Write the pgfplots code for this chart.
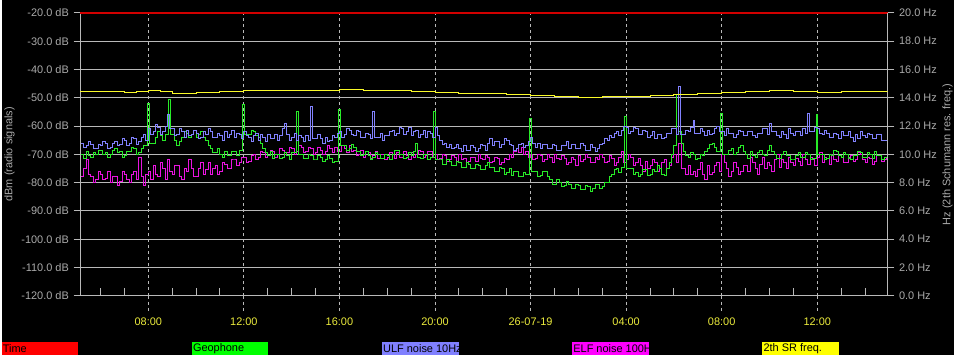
\documentclass[border=0pt]{standalone}
\usepackage{pgfplots}
\pgfplotsset{compat=1.18}
\usepackage{fontspec}
\setmainfont{Liberation Sans}
\definecolor{gridc}{RGB}{185,185,185}
\definecolor{labc}{RGB}{170,170,170}
\definecolor{ylab}{RGB}{235,235,60}
\definecolor{geo}{RGB}{40,235,40}
\definecolor{ulf}{RGB}{130,130,255}
\definecolor{elf}{RGB}{235,20,225}
\definecolor{sr}{RGB}{250,250,40}
\definecolor{timec}{RGB}{210,0,0}
\definecolor{geobox}{RGB}{0,255,0}
\definecolor{ulfbox}{RGB}{128,128,255}
\definecolor{elfbox}{RGB}{255,0,255}
\definecolor{srbox}{RGB}{255,255,0}
\begin{document}
\begin{tikzpicture}[font=\fontsize{8.25}{9.5}\selectfont]
\fill[black] (0,0) rectangle (717.75pt,267.75pt);
\begin{axis}[at={(59.25pt,45pt)}, anchor=south west, scale only axis,
  width=608.25pt, height=213pt,
  xmin=5.15, xmax=38.95, ymin=-120, ymax=-20,
  clip=false,
  axis x line*=bottom, axis y line*=left,
  axis line style={gridc, line width=0.75pt},
  ytick={-120,-110,...,-20},
  yticklabels={-120.0 dB,-110.0 dB,-100.0 dB,-90.0 dB,-80.0 dB,-70.0 dB,-60.0 dB,-50.0 dB,-40.0 dB,-30.0 dB,-20.0 dB},
  yticklabel style={text=labc},
  ytick align=outside, major tick length=5pt,
  ytick style={gridc, line width=0.75pt},
  ymajorgrids, major y grid style={gridc, line width=0.75pt},
  xmajorgrids, major x grid style={gridc, line width=0.75pt, dash pattern=on 2.25pt off 2.25pt},
  xtick={8,12,16,20,24,28,32,36},
  xticklabels={08:00,12:00,16:00,20:00,26-07-19,04:00,08:00,12:00},
  xticklabel style={text=ylab, yshift=-13pt},
  major x tick style={draw=none},
  minor xtick={6,7,9,10,11,13,14,15,17,18,19,21,22,23,25,26,27,29,30,31,33,34,35,37,38},
  xtick align=inside, minor tick length=6pt,
  minor x tick style={gridc, line width=0.75pt},
]
\foreach \t in {8,12,16,20,24,28,32,36} {
  \edef\temp{\noexpand\draw[gridc, line width=0.75pt, dash pattern=on 2.25pt off 2.25pt] (axis cs:\t,-120) -- (axis cs:\t,-125.6);}
  \temp
}
\addplot[timec, line width=0.9pt] coordinates {(5.15,-20) (38.95,-20)};
% ELF noise 100Hz
\addplot[elf, const plot, line width=0.75pt] coordinates {
(5.2,-78)(5.3,-75)(5.4,-72)(5.5,-77)(5.6,-78)(5.7,-80)(5.8,-79)(5.9,-76)(6.0,-77)(6.1,-79)(6.2,-78.5)(6.3,-76)(6.4,-80)(6.5,-78)(6.6,-78)(6.7,-81)(6.8,-79.5)(6.9,-76)(7.0,-77)(7.1,-79)(7.2,-80)(7.3,-77)(7.4,-76)(7.5,-79)(7.6,-71)(7.7,-78)(7.8,-81)(7.9,-77)(8.0,-76)(8.1,-79)(8.2,-74)(8.3,-77)(8.4,-78)(8.5,-73)(8.6,-75)(8.7,-79)(8.8,-72)(8.9,-76)(9.0,-77)(9.1,-74)(9.2,-74)(9.3,-78)(9.4,-79)(9.5,-75)(9.6,-76)(9.7,-72)(9.8,-75)(9.9,-78)(10.0,-78)(10.1,-75)(10.2,-73)(10.3,-77)(10.4,-75.5)(10.5,-73)(10.6,-77)(10.7,-75)(10.8,-74)(10.9,-77)(11.0,-76)(11.1,-73)(11.2,-73.5)(11.3,-75)(11.4,-75)(11.5,-72)(11.6,-72)(11.7,-74)(11.8,-73)(11.9,-71)(12.0,-71)(12.1,-73)(12.2,-72.5)(12.3,-70.5)(12.4,-70)(12.5,-72)(12.6,-71)(12.7,-69)(12.8,-69.5)(12.9,-71)(13.0,-70.5)(13.1,-68.5)(13.2,-69)(13.3,-71)(13.4,-70)(13.5,-68)(13.6,-68.5)(13.7,-70)(13.8,-69.5)(13.9,-67.5)(14.0,-68)(14.1,-70)(14.2,-69)(14.3,-67)(14.4,-67.5)(14.5,-69.5)(14.6,-69)(14.7,-67.5)(14.8,-68)(14.9,-70)(15.0,-69.5)(15.1,-67.5)(15.2,-68.5)(15.3,-70)(15.4,-69)(15.5,-67)(15.6,-68)(15.7,-69.5)(15.8,-67.5)(15.9,-69)(16.0,-69)(16.1,-67)(16.2,-68)(16.3,-69.5)(16.4,-67)(16.5,-69)(16.6,-68.5)(16.7,-70.5)(16.8,-70)(16.9,-68.5)(17.0,-71)(17.1,-69)(17.2,-69.5)(17.3,-71.5)(17.4,-70.5)(17.5,-69)(17.6,-71.5)(17.7,-70)(17.8,-70)(17.9,-72)(18.0,-71)(18.1,-69.5)(18.2,-70)(18.3,-71.5)(18.4,-69.5)(18.5,-71)(18.6,-71)(18.7,-69)(18.8,-70.5)(18.9,-72)(19.0,-69.5)(19.1,-71)(19.2,-70)(19.3,-68.5)(19.4,-69)(19.5,-71)(19.6,-70.5)(19.7,-69)(19.8,-69)(19.9,-71)(20.0,-70)(20.1,-72)(20.2,-71.5)(20.3,-70)(20.4,-70.5)(20.5,-72.5)(20.6,-72)(20.7,-70.5)(20.8,-71)(20.9,-72.5)(21.0,-70)(21.1,-72)(21.2,-71.5)(21.3,-73)(21.4,-72.5)(21.5,-71)(21.6,-71)(21.7,-72.5)(21.8,-70)(21.9,-71.5)(22.0,-72)(22.1,-70.5)(22.2,-71)(22.3,-73)(22.4,-72.5)(22.5,-71)(22.6,-71.5)(22.7,-73.5)(22.8,-73)(22.9,-71.5)(23.0,-72)(23.1,-70)(23.2,-71)(23.3,-69)(23.4,-68)(23.5,-69.5)(23.6,-67.5)(23.7,-70)(23.8,-69)(23.9,-71)(24.0,-70)(24.1,-72)(24.2,-71.5)(24.3,-70)(24.4,-70.5)(24.5,-72.5)(24.6,-72)(24.7,-70)(24.8,-71)(24.9,-73)(25.0,-70)(25.1,-71.5)(25.2,-72)(25.3,-70.5)(25.4,-71.5)(25.5,-73.5)(25.6,-73)(25.7,-71)(25.8,-72)(25.9,-74)(26.0,-70.5)(26.1,-72.5)(26.2,-72)(26.3,-70)(26.4,-71)(26.5,-73)(26.6,-73)(26.7,-71)(26.8,-72)(26.9,-70)(27.0,-71)(27.1,-73)(27.2,-72.5)(27.3,-70.5)(27.4,-71.5)(27.5,-74)(27.6,-73)(27.7,-71)(27.8,-69)(27.9,-73)(28.0,-72)(28.1,-70)(28.2,-71)(28.3,-74)(28.4,-73)(28.5,-71.5)(28.6,-74)(28.7,-76)(28.8,-72.5)(28.9,-75)(29.0,-74)(29.1,-72)(29.2,-73)(29.3,-76)(29.4,-75)(29.5,-73)(29.6,-72)(29.7,-75)(29.8,-74)(29.9,-71)(30.0,-70)(30.1,-73)(30.2,-66)(30.3,-75)(30.4,-75)(30.5,-77)(30.6,-74)(30.7,-77)(30.8,-76)(30.9,-78)(31.0,-75.5)(31.1,-73)(31.2,-77)(31.3,-79)(31.4,-74)(31.5,-77)(31.6,-76.5)(31.7,-74)(31.8,-73)(31.9,-76)(32.0,-70)(32.1,-73)(32.2,-75)(32.3,-78)(32.4,-76)(32.5,-73)(32.6,-74.5)(32.7,-77)(32.8,-76)(32.9,-74)(33.0,-74)(33.1,-76)(33.2,-71)(33.3,-73)(33.4,-75)(33.5,-77)(33.6,-73.5)(33.7,-71)(33.8,-75)(33.9,-73)(34.0,-74)(34.1,-76)(34.2,-72)(34.3,-70)(34.4,-74.5)(34.5,-72)(34.6,-73)(34.7,-75)(34.8,-71)(34.9,-73)(35.0,-74)(35.1,-71.5)(35.2,-72.5)(35.3,-74)(35.4,-70)(35.5,-72)(35.6,-73.5)(35.7,-71)(35.8,-72)(35.9,-74)(36.0,-71)(36.1,-69.5)(36.2,-73)(36.3,-71)(36.4,-71.5)(36.5,-73.5)(36.6,-70)(36.7,-72)(36.8,-72.5)(36.9,-70.5)(37.0,-71)(37.1,-73)(37.2,-73)(37.3,-71)(37.4,-70.5)(37.5,-72.5)(37.6,-72)(37.7,-69.5)(37.8,-70)(37.9,-72)(38.0,-73)(38.1,-71)(38.2,-71.5)(38.3,-73.5)(38.4,-72.5)(38.5,-70.5)(38.6,-70.5)(38.7,-72.5)(38.8,-72)(38.9,-71)(38.95,-71)};
% Geophone
\addplot[geo, const plot, line width=0.75pt] coordinates {
(5.2,-70)(5.3,-71.5)(5.4,-69)(5.5,-70.5)(5.6,-71)(5.7,-69.5)(5.8,-70)(5.9,-68.5)(6.0,-68.5)(6.1,-70)(6.2,-69.5)(6.3,-71)(6.4,-70)(6.5,-68.5)(6.6,-68)(6.7,-69.5)(6.8,-69)(6.9,-71)(7.0,-70.5)(7.1,-69)(7.2,-69)(7.3,-67.5)(7.4,-68)(7.5,-70)(7.6,-69.5)(7.7,-68)(7.8,-67)(7.95,-52)(8.03,-66)(8.2,-66)(8.3,-64)(8.4,-62)(8.5,-63.5)(8.6,-65)(8.7,-63)(8.85,-50.5)(8.93,-63)(9.0,-63)(9.1,-65)(9.2,-67)(9.3,-65.5)(9.4,-64)(9.5,-62)(9.6,-62.5)(9.7,-64)(9.8,-63)(9.9,-61.5)(10.0,-64)(10.1,-63)(10.2,-62)(10.3,-64)(10.4,-65)(10.5,-67)(10.6,-68)(10.7,-69.5)(10.8,-69.5)(10.9,-68)(11.0,-70)(11.1,-71)(11.2,-69)(11.3,-70.5)(11.4,-70.5)(11.5,-69)(11.6,-69)(11.7,-70.5)(11.8,-68.5)(11.95,-52.5)(12.03,-63)(12.2,-63)(12.3,-61.5)(12.4,-62)(12.5,-63.5)(12.6,-64)(12.7,-66)(12.8,-68)(12.9,-69.5)(13.0,-70.5)(13.1,-69)(13.2,-71.5)(13.3,-70)(13.4,-70)(13.5,-71.5)(13.6,-71)(13.7,-69.5)(13.8,-70.5)(13.9,-72)(14.0,-69.5)(14.2,-55)(14.28,-70)(14.4,-70)(14.5,-71.5)(14.6,-71.5)(14.7,-70)(14.8,-70.5)(14.9,-72)(15.0,-72)(15.1,-70.5)(15.2,-71)(15.3,-72.5)(15.4,-72)(15.5,-70.5)(15.6,-71.5)(15.7,-73)(15.8,-72.5)(15.95,-54)(16.03,-67)(16.2,-67)(16.3,-68.5)(16.4,-68)(16.5,-66.5)(16.6,-67.5)(16.7,-69)(16.8,-69)(16.9,-70.5)(17.0,-70)(17.1,-69)(17.2,-70.5)(17.3,-72)(17.4,-71)(17.5,-69.5)(17.6,-70)(17.7,-71.5)(17.8,-71.5)(17.9,-70)(18.0,-70.5)(18.1,-72)(18.2,-70)(18.3,-68.5)(18.4,-68.5)(18.5,-70)(18.6,-70)(18.7,-71.5)(18.8,-71)(18.9,-69.5)(19.0,-70.5)(19.1,-69)(19.2,-66)(19.28,-71)(19.4,-71.5)(19.5,-70)(19.6,-70)(19.7,-72)(19.8,-71)(19.95,-55)(20.03,-72)(20.2,-72)(20.3,-73.5)(20.4,-73.5)(20.5,-72)(20.6,-72.5)(20.7,-74)(20.8,-74)(20.9,-72.5)(21.0,-73)(21.1,-74.5)(21.2,-74.5)(21.3,-73)(21.4,-73.5)(21.5,-75)(21.6,-75)(21.7,-73.5)(21.8,-74)(21.9,-75.5)(22.0,-75.5)(22.1,-74)(22.2,-73)(22.3,-74.5)(22.4,-74.5)(22.5,-76)(22.6,-76)(22.7,-74.5)(22.8,-75)(22.9,-77)(23.0,-76.5)(23.1,-75)(23.2,-77.5)(23.3,-76)(23.4,-76)(23.5,-78)(23.6,-78)(23.7,-76.5)(23.8,-77)(23.95,-57.5)(24.03,-76)(24.2,-76)(24.3,-78)(24.4,-77.5)(24.5,-76)(24.6,-76)(24.7,-78)(24.8,-79)(24.9,-80.5)(25.0,-80.5)(25.1,-79)(25.2,-80)(25.3,-81.5)(25.4,-81)(25.5,-79.5)(25.6,-80.5)(25.7,-82)(25.8,-82)(25.9,-80.5)(26.0,-81)(26.1,-82.5)(26.2,-82.5)(26.3,-81)(26.4,-81.5)(26.5,-83)(26.6,-82)(26.7,-80.5)(26.8,-80.5)(26.9,-82)(27.0,-81.5)(27.1,-80)(27.2,-80)(27.3,-78)(27.4,-77)(27.5,-75.5)(27.6,-75)(27.7,-76.5)(27.8,-74.5)(27.95,-56.5)(28.03,-75)(28.2,-75)(28.3,-77)(28.4,-76.5)(28.5,-78)(28.6,-77)(28.7,-75.5)(28.8,-75.5)(28.9,-77.5)(29.0,-77)(29.1,-75.5)(29.2,-76)(29.3,-74)(29.4,-75)(29.5,-77)(29.6,-77.5)(29.7,-75)(29.8,-73)(29.9,-70)(30.0,-67)(30.1,-49)(30.18,-62)(30.3,-66)(30.4,-69)(30.5,-70.5)(30.6,-71)(30.7,-69.5)(30.8,-70)(30.9,-72)(31.0,-71.5)(31.1,-70)(31.2,-70.5)(31.3,-69)(31.4,-68)(31.5,-66.5)(31.6,-66)(31.7,-67.5)(31.8,-69)(31.95,-55.5)(32.03,-70)(32.2,-70)(32.3,-68.5)(32.4,-68)(32.5,-70)(32.6,-69.5)(32.7,-67.5)(32.8,-67)(32.9,-69)(33.0,-70)(33.1,-71.5)(33.2,-69)(33.3,-70.5)(33.4,-71)(33.5,-69.5)(33.6,-68.5)(33.7,-70)(33.8,-70.5)(33.9,-68.5)(34.0,-67)(34.1,-69)(34.2,-70)(34.3,-71.5)(34.4,-71.5)(34.5,-70)(34.6,-69)(34.7,-70.5)(34.8,-70.5)(34.9,-72)(35.0,-72)(35.1,-70.5)(35.2,-69.5)(35.3,-71)(35.4,-71)(35.5,-69.5)(35.6,-70)(35.7,-72)(35.8,-71.5)(35.95,-56)(36.03,-70)(36.2,-70)(36.3,-72)(36.4,-71.5)(36.5,-70)(36.6,-70.5)(36.7,-68.5)(36.8,-69)(36.9,-70.5)(37.0,-71)(37.1,-69.5)(37.2,-70)(37.3,-71.5)(37.4,-72)(37.5,-70.5)(37.6,-70.5)(37.7,-69)(37.8,-69.5)(37.9,-71)(38.0,-71)(38.1,-69.5)(38.2,-70)(38.3,-71.5)(38.4,-69)(38.5,-70.5)(38.6,-70.5)(38.7,-72)(38.8,-71)(38.95,-70)};
% ULF noise 10Hz
\addplot[ulf, const plot, line width=0.75pt] coordinates {
(5.2,-66)(5.3,-67.5)(5.4,-67)(5.5,-65.5)(5.6,-66.5)(5.7,-68)(5.8,-68)(5.9,-66.5)(6.0,-67)(6.1,-65.5)(6.2,-66)(6.3,-68)(6.4,-67.5)(6.5,-66)(6.6,-65.5)(6.7,-67)(6.8,-66.5)(6.9,-64.5)(7.0,-65)(7.1,-67)(7.2,-66)(7.3,-64)(7.4,-64.5)(7.5,-66.5)(7.6,-65.5)(7.7,-64)(7.8,-63)(7.9,-65)(8.0,-61)(8.1,-63)(8.2,-62)(8.3,-59.5)(8.4,-60.5)(8.5,-63)(8.6,-62)(8.7,-60)(8.8,-56)(8.88,-61)(9.0,-61)(9.1,-63.5)(9.2,-63)(9.3,-61)(9.4,-62)(9.5,-64)(9.6,-61.5)(9.7,-63.5)(9.8,-63)(9.9,-61.5)(10.0,-62.5)(10.1,-64.5)(10.2,-64)(10.3,-62)(10.4,-63)(10.5,-61)(10.6,-62)(10.7,-64)(10.8,-64)(10.9,-62.5)(11.0,-63.5)(11.1,-65)(11.2,-62)(11.3,-64)(11.4,-63)(11.5,-61.5)(11.6,-64)(11.7,-62.5)(11.8,-63)(11.9,-64.5)(12.0,-62)(12.1,-63.5)(12.2,-64)(12.3,-65.5)(12.4,-63.5)(12.5,-62.5)(12.6,-65)(12.7,-63)(12.8,-64)(12.9,-65.5)(13.0,-63)(13.1,-64.5)(13.2,-64.5)(13.3,-63)(13.4,-65)(13.5,-63.5)(13.6,-61)(13.7,-59)(13.8,-63)(13.9,-65)(14.0,-64)(14.1,-62.5)(14.2,-65)(14.3,-63.5)(14.4,-64)(14.5,-65.5)(14.6,-63.5)(14.7,-65)(14.8,-53)(14.88,-64.5)(15.0,-64.5)(15.1,-63)(15.2,-64.5)(15.3,-66)(15.4,-64)(15.5,-65.5)(15.6,-65)(15.7,-63.5)(15.8,-64)(15.9,-62.5)(16.0,-62)(16.1,-64)(16.2,-63)(16.3,-61)(16.4,-61.5)(16.5,-63)(16.6,-63.5)(16.7,-61.5)(16.8,-62)(16.9,-64)(17.0,-64)(17.1,-62.5)(17.2,-63)(17.3,-64.5)(17.4,-55)(17.48,-64)(17.6,-64)(17.7,-62.5)(17.8,-65)(17.9,-63.5)(18.0,-63.5)(18.1,-62)(18.2,-61.5)(18.3,-63.5)(18.4,-62.5)(18.5,-60.5)(18.6,-61)(18.7,-63)(18.8,-62)(18.9,-60.5)(19.0,-63.5)(19.1,-62)(19.2,-61.5)(19.3,-64)(19.4,-63)(19.5,-61.5)(19.6,-64)(19.7,-62)(19.8,-62.5)(19.9,-64)(20.0,-60.5)(20.1,-63.5)(20.2,-65)(20.3,-66.5)(20.4,-66)(20.5,-67.5)(20.6,-66.5)(20.7,-68)(20.8,-67.5)(20.9,-66.5)(21.0,-68)(21.1,-69)(21.2,-67)(21.3,-68.5)(21.4,-68.5)(21.5,-67)(21.6,-67.5)(21.7,-69)(21.8,-68)(21.9,-66.5)(22.0,-67)(22.1,-68.5)(22.2,-66)(22.3,-64.5)(22.4,-67)(22.5,-65.5)(22.6,-65.5)(22.7,-67.5)(22.8,-66.5)(22.9,-64.5)(23.0,-65)(23.1,-66.5)(23.2,-67)(23.3,-68.5)(23.4,-68)(23.5,-66.5)(23.6,-66)(23.7,-67.5)(23.8,-67)(23.9,-65.5)(24.0,-64)(24.1,-66)(24.2,-67.5)(24.3,-66)(24.4,-68)(24.5,-66.5)(24.6,-66.5)(24.7,-68)(24.8,-68)(24.9,-66.5)(25.0,-67)(25.1,-68.5)(25.2,-68.5)(25.3,-67)(25.4,-67)(25.5,-65.5)(25.6,-68)(25.7,-66.5)(25.8,-66.5)(25.9,-68)(26.0,-68)(26.1,-66)(26.2,-67)(26.3,-68.5)(26.4,-68.5)(26.5,-66.5)(26.6,-67.5)(26.7,-69)(26.8,-68)(26.9,-66.5)(27.0,-66)(27.1,-64.5)(27.2,-65)(27.3,-63.5)(27.4,-64)(27.5,-62.5)(27.6,-62)(27.7,-63.5)(27.8,-61.5)(27.9,-60)(28.0,-60.5)(28.1,-62.5)(28.2,-62)(28.3,-60.5)(28.4,-61)(28.5,-63)(28.6,-63)(28.7,-61.5)(28.8,-62)(28.9,-64)(29.0,-63.5)(29.1,-62)(29.2,-64.5)(29.3,-63)(29.4,-63)(29.5,-64.5)(29.6,-64)(29.7,-62.5)(29.8,-62.5)(29.9,-61)(30.0,-61)(30.1,-63)(30.2,-46)(30.28,-63)(30.4,-63)(30.5,-61.5)(30.6,-62)(30.7,-60.5)(30.8,-58)(30.88,-62.5)(31.0,-62.5)(31.1,-61)(31.2,-62)(31.3,-63.5)(31.4,-61.5)(31.5,-63)(31.6,-62.5)(31.7,-61)(31.8,-60)(31.9,-62)(32.0,-62)(32.1,-63.5)(32.2,-61)(32.3,-62.5)(32.4,-62.5)(32.5,-64)(32.6,-63)(32.7,-61.5)(32.8,-62)(32.9,-63.5)(33.0,-63.5)(33.1,-62)(33.2,-62)(33.3,-63.5)(33.4,-64)(33.5,-62.5)(33.6,-62.5)(33.7,-61)(33.8,-61)(33.9,-63)(34.0,-59)(34.08,-62)(34.2,-62)(34.3,-63.5)(34.4,-64)(34.5,-62)(34.6,-63)(34.7,-64.5)(34.8,-61)(34.9,-62.5)(35.0,-63.5)(35.1,-62)(35.2,-62)(35.3,-63.5)(35.4,-61)(35.5,-62.5)(35.6,-55.5)(35.68,-62)(35.8,-62)(35.9,-60.5)(36.0,-61)(36.1,-62.5)(36.2,-63)(36.3,-61.5)(36.4,-62.5)(36.5,-64)(36.6,-64)(36.7,-62.5)(36.8,-63)(36.9,-64.5)(37.0,-62)(37.1,-63.5)(37.2,-63.5)(37.3,-62)(37.4,-64)(37.5,-65.5)(37.6,-63)(37.7,-64.5)(37.8,-62)(37.9,-63.5)(38.0,-64)(38.1,-62.5)(38.2,-63)(38.3,-64.5)(38.4,-64.5)(38.5,-63)(38.6,-63)(38.7,-65)(38.8,-65)(38.95,-64)};
\end{axis}
\begin{axis}[at={(59.25pt,45pt)}, anchor=south west, scale only axis,
  width=608.25pt, height=213pt,
  xmin=5.15, xmax=38.95, ymin=0, ymax=20,
  axis x line=none, axis y line*=right,
  axis line style={gridc, line width=0.75pt},
  ytick={0,2,...,20},
  yticklabels={0.0 Hz,2.0 Hz,4.0 Hz,6.0 Hz,8.0 Hz,10.0 Hz,12.0 Hz,14.0 Hz,16.0 Hz,18.0 Hz,20.0 Hz},
  yticklabel style={text=labc},
  ytick align=outside, major tick length=5pt,
  ytick style={gridc, line width=0.75pt},
]
% 2th SR freq.
\addplot[sr, const plot, line width=0.75pt] coordinates {
(5.15,14.42)(6.0,14.42)(7.0,14.40)(7.5,14.44)(8.0,14.48)(8.5,14.42)(9.0,14.30)(9.5,14.28)(10.0,14.35)(11.0,14.45)(12.0,14.48)(13.0,14.52)(14.0,14.50)(15.0,14.55)(16.0,14.58)(17.0,14.55)(18.0,14.50)(19.0,14.42)(20.0,14.38)(21.0,14.32)(22.0,14.30)(23.0,14.22)(24.0,14.18)(25.0,14.12)(26.0,14.05)(27.0,14.08)(28.0,14.12)(29.0,14.15)(30.0,14.22)(31.0,14.30)(32.0,14.38)(33.0,14.45)(34.0,14.50)(35.0,14.46)(36.0,14.40)(37.0,14.42)(38.0,14.45)(38.95,14.46)};
\end{axis}
% axis titles
\node[rotate=90, text=labc] at (6pt,151.5pt) {dBm (radio signals)};
\node[rotate=90, text=labc] at (712.5pt,151.5pt) {Hz (2th Schumann res. freq.)};
% legend strip
\begin{scope}
\fill[red] (0pt,0pt) rectangle (57.75pt,10.5pt);
\clip (0pt,0pt) rectangle (57.75pt,10.5pt);
\node[anchor=west, inner sep=0pt, text=black] at (0.75pt,5.2pt) {Time};
\end{scope}
\begin{scope}
\fill[geobox] (143.25pt,0pt) rectangle (201pt,10.5pt);
\clip (143.25pt,0pt) rectangle (201pt,10.5pt);
\node[anchor=west, inner sep=0pt, text=black] at (144pt,5.2pt) {Geophone};
\end{scope}
\begin{scope}
\fill[ulfbox] (286.5pt,0pt) rectangle (344.25pt,10.5pt);
\clip (286.5pt,0pt) rectangle (344.25pt,10.5pt);
\node[anchor=west, inner sep=0pt, text=black] at (287.25pt,5.2pt) {ULF noise 10Hz};
\end{scope}
\begin{scope}
\fill[elfbox] (429.75pt,0pt) rectangle (487.5pt,10.5pt);
\clip (429.75pt,0pt) rectangle (487.5pt,10.5pt);
\node[anchor=west, inner sep=0pt, text=black] at (430.5pt,5.2pt) {ELF noise 100Hz};
\end{scope}
\begin{scope}
\fill[srbox] (573pt,0pt) rectangle (630.75pt,10.5pt);
\clip (573pt,0pt) rectangle (630.75pt,10.5pt);
\node[anchor=west, inner sep=0pt, text=black] at (573.75pt,5.2pt) {2th SR freq.};
\end{scope}
\end{tikzpicture}
\end{document}
